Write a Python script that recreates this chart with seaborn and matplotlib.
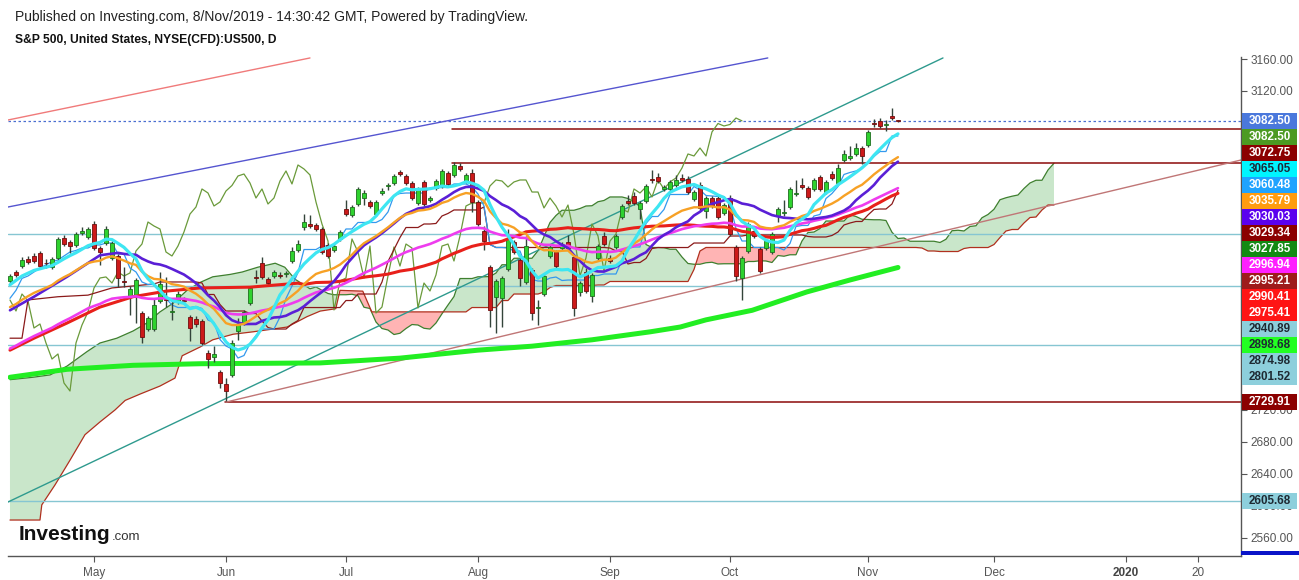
import numpy as np
import pandas as pd
import matplotlib
matplotlib.use("Agg")
import matplotlib.pyplot as plt
import matplotlib.transforms as mtransforms
from matplotlib.patches import Rectangle
import seaborn as sns

# ---------------- data ----------------
opens = [2881.7, 2893.0, 2900.5, 2909.3, 2913.1, 2916.8, 2904.3, 2899.3, 2910.6, 2935.6,
         2930.6, 2926.9, 2941.9, 2936.9, 2953.2, 2923.1, 2929.4, 2910.6, 2913.1, 2881.7,
         2861.7, 2864.2, 2841.6, 2821.5, 2821.5, 2856.7, 2859.2, 2842.9, 2855.4, 2857.9,
         2836.6, 2834.1, 2831.6, 2791.4, 2786.4, 2767.6, 2752.6, 2763.9, 2819.0, 2829.1,
         2854.1, 2886.8, 2904.3, 2884.2, 2888.0, 2889.3, 2890.5, 2906.8, 2920.6, 2949.4,
         2953.2, 2951.9, 2946.9, 2926.9, 2920.6, 2934.4, 2972.0, 2964.5, 2978.3, 2985.8,
         2980.8, 2965.7, 2992.1, 3000.9, 3004.6, 3018.4, 3013.4, 3004.6, 2979.5, 3005.9,
         2983.3, 2998.4, 3000.9, 3017.2, 3014.7, 3025.9, 3007.1, 3017.2, 2980.8, 2944.4,
         2899.3, 2861.7, 2860.4, 2896.8, 2930.6, 2908.1, 2880.5, 2895.5, 2847.9, 2865.4,
         2913.1, 2918.1, 2923.1, 2930.6, 2911.8, 2867.9, 2893.0, 2862.9, 2910.6, 2938.2,
         2910.6, 2924.4, 2962.0, 2982.0, 2988.3, 2972.0, 2982.0, 3009.6, 3012.2, 2997.1,
         2997.1, 3002.1, 3010.9, 3009.6, 2984.6, 3002.1, 2969.5, 2985.8, 2985.8, 2967.0,
         2985.8, 2924.4, 2885.5, 2919.4, 2944.4, 2921.9, 2923.1, 2918.1, 2963.2, 2967.0,
         2974.5, 2990.8, 3002.1, 2998.4, 2997.1, 3012.2, 2993.3, 3015.9, 3004.6, 3033.5,
         3036.0, 3041.0, 3048.5, 3052.3, 3079.9, 3082.4, 3077.4, 3088.6, 3083.6]
highs = [2890.5, 2895.5, 2911.8, 2913.1, 2916.8, 2919.4, 2909.3, 2911.8, 2936.9, 2939.4,
         2933.1, 2943.2, 2949.4, 2949.4, 2957.0, 2925.6, 2950.7, 2931.9, 2915.6, 2899.3,
         2875.5, 2885.5, 2844.1, 2837.8, 2860.4, 2893.0, 2886.8, 2857.9, 2869.2, 2861.7,
         2839.1, 2837.8, 2834.1, 2795.2, 2800.2, 2770.1, 2760.1, 2807.7, 2835.3, 2845.4,
         2875.5, 2895.5, 2911.8, 2886.8, 2895.5, 2893.0, 2894.3, 2924.4, 2933.1, 2965.7,
         2964.5, 2954.5, 2949.4, 2929.4, 2928.1, 2945.7, 2983.3, 2977.0, 2999.6, 2995.8,
         2983.3, 2983.3, 2998.4, 3004.6, 3015.9, 3020.9, 3015.9, 3007.1, 2999.6, 3008.4,
         2988.3, 3009.6, 3022.2, 3019.7, 3031.0, 3029.7, 3017.2, 3022.2, 2983.3, 2950.7,
         2901.8, 2884.2, 2888.0, 2946.9, 2933.1, 2910.6, 2938.2, 2898.0, 2857.9, 2890.5,
         2926.9, 2920.6, 2930.6, 2939.4, 2914.3, 2881.7, 2898.0, 2891.8, 2928.1, 2943.2,
         2914.3, 2940.7, 2978.3, 2989.6, 2993.3, 2982.0, 3003.4, 3020.9, 3017.2, 3002.1,
         3008.4, 3014.7, 3015.9, 3013.4, 2995.8, 3005.9, 2988.3, 2988.3, 2988.3, 2979.5,
         2989.6, 2926.9, 2913.1, 2955.7, 2949.4, 2924.4, 2934.4, 2943.2, 2974.5, 2983.3,
         2999.6, 3008.4, 3010.9, 3000.9, 3010.9, 3014.7, 3008.4, 3019.7, 3028.4, 3046.0,
         3051.0, 3054.8, 3051.0, 3071.1, 3084.9, 3086.1, 3083.6, 3098.7, 3084.0]
lows = [2879.2, 2886.8, 2898.0, 2903.0, 2904.3, 2898.0, 2898.0, 2896.8, 2908.1, 2925.6,
        2916.8, 2924.4, 2939.4, 2934.4, 2920.6, 2901.8, 2926.9, 2908.1, 2874.2, 2874.2,
        2839.1, 2829.1, 2804.0, 2819.0, 2819.0, 2854.1, 2849.1, 2832.8, 2852.9, 2852.9,
        2806.5, 2824.0, 2801.5, 2772.6, 2780.2, 2747.5, 2731.2, 2761.3, 2807.7, 2826.5,
        2851.6, 2879.2, 2884.2, 2876.7, 2885.5, 2885.5, 2886.8, 2904.3, 2918.1, 2945.7,
        2948.2, 2944.4, 2915.6, 2910.6, 2918.1, 2931.9, 2963.2, 2962.0, 2975.8, 2977.0,
        2973.3, 2963.2, 2989.6, 2995.8, 3002.1, 3013.4, 3002.1, 2983.3, 2977.0, 2975.8,
        2980.8, 2995.8, 2998.4, 3000.9, 3012.2, 3019.7, 3004.6, 2968.2, 2950.7, 2920.6,
        2824.0, 2816.5, 2824.0, 2894.3, 2915.6, 2875.5, 2878.0, 2832.8, 2826.5, 2862.9,
        2910.6, 2895.5, 2920.6, 2920.6, 2837.8, 2862.9, 2866.7, 2855.4, 2908.1, 2925.6,
        2904.3, 2921.9, 2959.5, 2977.0, 2977.0, 2959.5, 2979.5, 3004.6, 3004.6, 2994.6,
        2994.6, 2999.6, 3005.9, 2990.8, 2982.0, 2970.8, 2960.7, 2973.3, 2959.5, 2964.5,
        2938.2, 2881.7, 2857.9, 2916.8, 2935.6, 2891.8, 2920.6, 2915.6, 2955.7, 2963.2,
        2972.0, 2988.3, 2997.1, 2984.6, 2994.6, 2994.6, 2990.8, 3008.4, 3002.1, 3031.0,
        3033.5, 3038.5, 3028.4, 3049.8, 3074.8, 3073.6, 3069.8, 3083.6, 3081.5]
closes = [2888.0, 2889.3, 2908.1, 2905.6, 2906.8, 2900.5, 2903.7, 2909.3, 2934.4, 2928.1,
          2925.6, 2940.7, 2944.4, 2946.9, 2923.1, 2918.1, 2946.9, 2929.4, 2885.5, 2880.5,
          2871.7, 2883.0, 2811.5, 2835.3, 2851.6, 2878.0, 2857.9, 2844.1, 2865.4, 2856.7,
          2822.8, 2827.8, 2804.0, 2783.9, 2790.2, 2753.8, 2743.8, 2804.0, 2826.5, 2842.9,
          2872.9, 2885.5, 2886.8, 2879.2, 2893.0, 2888.0, 2891.8, 2919.4, 2928.1, 2955.7,
          2950.7, 2946.9, 2918.1, 2913.1, 2925.6, 2943.2, 2965.7, 2974.5, 2997.1, 2992.1,
          2975.8, 2980.8, 2994.6, 3001.5, 3013.4, 3015.9, 3004.6, 2985.8, 2997.1, 2978.3,
          2985.8, 3007.1, 3019.7, 3003.4, 3027.2, 3022.2, 3014.7, 2980.8, 2953.2, 2931.9,
          2845.4, 2881.7, 2885.5, 2934.4, 2918.1, 2885.5, 2925.6, 2841.6, 2849.1, 2888.0,
          2924.4, 2900.5, 2928.1, 2923.1, 2847.9, 2879.2, 2869.2, 2889.3, 2925.6, 2928.1,
          2906.8, 2938.2, 2975.8, 2979.5, 2979.5, 2979.5, 3000.9, 3008.4, 3007.1, 2999.6,
          3005.9, 3008.4, 3008.4, 2993.3, 2993.3, 2973.3, 2985.8, 2975.8, 2962.0, 2977.0,
          2940.7, 2888.0, 2910.6, 2953.2, 2938.2, 2894.3, 2931.9, 2940.7, 2972.0, 2968.2,
          2997.1, 2992.1, 2999.6, 2987.1, 3008.4, 2997.1, 3005.9, 3010.9, 3023.4, 3041.0,
          3038.5, 3048.5, 3038.5, 3068.6, 3079.2, 3076.1, 3078.0, 3086.1, 3082.5]

tick_bars = [14, 36, 56, 78, 100, 120, 143, 164, 186, 198]
tick_labels = ["May", "Jun", "Jul", "Aug", "Sep", "Oct", "Nov", "Dec", "2020", "20"]

# indicator values read at the left edge (their history lies before the first bar)
cyan_head_bars = [0, 2, 4, 7]
cyan_head = [2877, 2888, 2895, 2901]
tenkan_head_bars = [0, 1, 2, 3, 5, 7]
tenkan_head = [2860, 2870, 2885, 2888, 2898, 2906]
kijun_head_bars = [0, 2, 3, 8, 13, 17, 24]
kijun_head = [2810, 2810, 2858, 2862, 2864, 2873, 2878]
purple_head_bars = [0, 4, 9.5, 15, 18]
purple_head = [2845, 2862, 2887, 2914, 2917]
red_head_bars = [0, 4, 9.5, 15, 20.5, 26, 31.7, 40, 48]
red_head = [2795, 2810, 2829, 2849, 2862, 2869, 2873, 2874, 2879]
orange_seed = 2849.0
magenta_seed = 2797.0
lime_bars = [0, 9.5, 20.5, 31.7, 51.7, 65, 78, 87, 97, 106.7, 111.7, 116, 123.7, 132.8, 140, 148]
lime_vals = [2761, 2771, 2776, 2778, 2779, 2785, 2795, 2800, 2808, 2818, 2824, 2833, 2845, 2868, 2883, 2898.68]
spanA_head_bars = [0, 3.8, 6.7, 9.5, 12.8, 15, 17.8, 20.5, 22.8, 25, 27.2, 29.5, 31.7, 33.8,
                   36.7, 38.7, 41.3, 44.2, 45.8, 47.5, 50]
spanA_head = [2758, 2761, 2764, 2775, 2793, 2804, 2810, 2819, 2829, 2843, 2854, 2870, 2880, 2887,
              2890, 2893, 2899, 2904, 2899, 2884, 2872]
spanB_head_bars = [0, 5, 5.3, 7.5, 10, 12.5, 15, 17.5, 19.2, 21.7, 25, 27.5, 28.7, 31.7, 33.8,
                   37.2, 40.5, 46.2, 49.5, 51.7, 54.3, 55, 58.8, 60.3, 76]
spanB_head = [2582, 2582, 2601, 2626, 2657, 2689, 2705, 2720, 2732, 2740, 2750, 2760, 2788, 2799,
              2808, 2815, 2818, 2824, 2837, 2844, 2847, 2870, 2869, 2843, 2843]

teal_levels = [2940.89, 2874.98, 2801.52, 2605.68]
darkred_levels = [3072.75, 3029.34]
darkred_start = 74
low_level = 2729.91
low_start = 36
last_price = 3082.50

trend_bars = {"red": [-0.33, 50.0], "blue": [-0.33, 126.3], "teal": [-0.33, 155.5], "brown": [36.0, 205.2]}
trend_vals = {"red": [3083.6, 3161.4], "blue": [2974.5, 3161.4], "teal": [2604.6, 3161.4], "brown": [2729.9, 3033.5]}

label_values = [3082.50, 3082.50, 3072.75, 3065.05, 3060.48, 3035.79, 3030.03, 3029.34, 3027.85,
                2996.94, 2995.21, 2990.41, 2975.41, 2940.89, 2898.68, 2874.98, 2801.52, 2729.91, 2605.68]
label_bg = ['#4a78dc', '#4c9a22', '#8b0000', '#00f5ff', '#1fa3ff', '#ff9c0f', '#5a00ee', '#8b0000',
            '#138a13', '#ff1fff', '#9e1b1b', '#ff1414', '#ff1414', '#8dcfdc', '#22ff22', '#8dcfdc',
            '#8dcfdc', '#8b0000', '#8dcfdc']
label_fg = ['white', 'white', 'white', '#1a2a3a', 'white', 'white', 'white', 'white', 'white',
            'white', 'white', 'white', 'white', '#1e2a33', '#1e2a33', '#1e2a33', '#1e2a33', 'white', '#1e2a33']

# ---------------- style ----------------
sns.set_theme(style="white")
plt.rcParams['font.family'] = ['Liberation Sans', 'DejaVu Sans']

W, Hh = 1299, 580
fig = plt.figure(figsize=(W / 100, Hh / 100), dpi=100)
fig.patch.set_facecolor('white')
ax_l, ax_r, ax_t, ax_b = 8, 1241, 57, 556
ax = fig.add_axes([ax_l / W, (Hh - ax_b) / Hh, (ax_r - ax_l) / W, (ax_b - ax_t) / Hh])
ax.set_facecolor('white')
XMIN, XMAX = -0.33, 205.17
YMIN, YMAX = 2536.9, 3162.6
ax.set_xlim(XMIN, XMAX)
ax.set_ylim(YMIN, YMAX)

Hs = pd.Series(highs); Ls = pd.Series(lows); Cs = pd.Series(closes)
n = len(Cs)
idx = np.arange(n)


def ema_from(seed, values, period):
    a = 2.0 / (period + 1)
    out = [seed]
    for v in values[1:]:
        out.append(out[-1] + a * (v - out[-1]))
    return np.array(out)


sma9 = Cs.rolling(9).mean()
sma20 = Cs.rolling(20).mean()
sma50 = Cs.rolling(50).mean()
tenkan = (Hs.rolling(9).max() + Ls.rolling(9).min()) / 2
kijun = (Hs.rolling(26).max() + Ls.rolling(26).min()) / 2
span_a = (tenkan + kijun) / 2
span_b = (Hs.rolling(52).max() + Ls.rolling(52).min()) / 2
ema20 = ema_from(orange_seed, closes, 20)
ema50 = ema_from(magenta_seed, closes, 50)

# cloud
ax_x = np.array(list(spanA_head_bars) + list(idx[25:] + 26), dtype=float)
ax_y = np.array(list(spanA_head) + list(span_a[25:]), dtype=float)
bx_x = np.array(list(spanB_head_bars) + list(idx[51:] + 26), dtype=float)
bx_y = np.array(list(spanB_head) + list(span_b[51:]), dtype=float)
grid = np.union1d(ax_x, bx_x)
ga = np.interp(grid, ax_x, ax_y)
gb = np.interp(grid, bx_x, bx_y)
ax.fill_between(grid, ga, gb, where=ga >= gb, interpolate=True, color='#4caf50', alpha=0.30, lw=0, zorder=1)
ax.fill_between(grid, ga, gb, where=ga < gb, interpolate=True, color='#ff4d4d', alpha=0.42, lw=0, zorder=1)


def line(xs, ys, color, lw, z, alpha=1.0):
    d = pd.DataFrame({"x": np.asarray(xs, dtype=float), "y": np.asarray(ys, dtype=float)}).dropna()
    sns.lineplot(data=d, x="x", y="y", ax=ax, color=color, linewidth=lw, estimator=None,
                 sort=False, legend=False, zorder=z, alpha=alpha)


line(ax_x, ax_y, '#3f7f2f', 0.9, 2)
line(bx_x, bx_y, '#b0301e', 0.9, 2)

# horizontal levels
for v in teal_levels:
    ax.plot([XMIN, XMAX], [v, v], color='#86c6d2', lw=1.0, zorder=2)
for v in darkred_levels:
    ax.plot([darkred_start - 0.4, XMAX], [v, v], color='#8b0a0a', lw=1.1, zorder=2)
ax.plot([low_start - 0.2, XMAX], [low_level, low_level], color='#8b0a0a', lw=1.1, zorder=2)
ax.plot([XMIN, XMAX], [last_price, last_price], color='#4a6fd0', lw=0.9, ls=(0, (2, 2)), zorder=2)

# trend lines
tcol = {"red": '#f07a7a', "blue": '#5555d0', "teal": '#2e9a8e', "brown": '#c07676'}
for k in trend_bars:
    ax.plot(trend_bars[k], trend_vals[k], color=tcol[k], lw=1.0, zorder=2)

# lagging span
line(idx[:n - 26], closes[26:], '#6a9a3a', 0.9, 3)
# 200 MA
line(lime_bars, lime_vals, '#22ee22', 3.6, 3)
# kijun / tenkan
line(list(kijun_head_bars) + list(idx[25:]), list(kijun_head) + list(kijun[25:]), '#8b1a1a', 0.9, 4)
line(list(tenkan_head_bars) + list(idx[8:]), list(tenkan_head) + list(tenkan[8:]), '#3399ee', 0.9, 4)

# candles
up = np.array(closes) >= np.array(opens)
o = np.array(opens); c = np.array(closes)
ax.vlines(idx, lows, highs, color='#33443a', lw=1.0, zorder=5)
body_lo = np.minimum(o, c)
body_h = np.maximum(np.abs(c - o), 0.9)
ax.bar(idx[up], body_h[up], bottom=body_lo[up], width=0.66, color='#2fd22f', edgecolor='#1f6e1f',
       linewidth=0.6, zorder=6)
ax.bar(idx[~up], body_h[~up], bottom=body_lo[~up], width=0.66, color='#cc1a1a', edgecolor='#6e0e0e',
       linewidth=0.6, zorder=6)

# moving averages
line(list(red_head_bars) + list(idx[49:]), list(red_head) + list(sma50[49:]), '#e8201a', 2.2, 7)
line(idx, ema50, '#ee3cee', 1.9, 7)
line(list(purple_head_bars) + list(idx[19:]), list(purple_head) + list(sma20[19:]), '#5a1fd6', 1.9, 7)
line(idx, ema20, '#f7a125', 1.7, 7)
line(list(cyan_head_bars) + list(idx[8:]), list(cyan_head) + list(sma9[8:]), '#3ee6f2', 2.3, 7)

# axes
for s in ['top', 'left']:
    ax.spines[s].set_visible(False)
for s in ['right', 'bottom']:
    ax.spines[s].set_color('#555555')
    ax.spines[s].set_linewidth(1.0)
ax.yaxis.tick_right()

# right side price labels (stacked so they do not overlap)
ppu = (ax_b - ax_t) / (YMAX - YMIN)
box_px = 16.0
pos = []
for v in label_values:
    nat = (v - YMIN) * ppu
    if pos:
        nat = min(nat, pos[-1] - box_px)
    pos.append(nat)
box_centres = [YMIN + p / ppu for p in pos]
box_half = (box_px - 0.5) / ppu / 2

yt = np.arange(2560, 3161, 40)
ax.set_yticks(yt)
# a tick value whose label would sit fully behind a price box is left blank
ylabels = []
for v in yt:
    hidden = any(abs(v - bc) < box_half * 0.55 or
                 (bc - box_half <= v <= bc + box_half and abs(v - bc) < box_half) for bc in box_centres)
    covered = any(bc - box_half - 3 / ppu <= v <= bc + box_half + 3 / ppu for bc in box_centres)
    ylabels.append("" if covered and not (v in (2720, 2600)) else f"{v:.2f}")
ax.set_yticklabels(ylabels)
ax.tick_params(axis='y', which='both', direction='out', length=4, width=0.8, color='#555555',
               labelsize=8.5, labelcolor='#555555', pad=3, right=True, left=False)
ax.set_xticks(tick_bars)
ax.set_xticklabels(tick_labels)
ax.tick_params(axis='x', direction='out', length=4, width=0.8, color='#555555', labelsize=8.5,
               labelcolor='#555555', pad=4, bottom=True)
for t in ax.get_xticklabels():
    if t.get_text() == "2020":
        t.set_fontweight('bold')
        t.set_color('#444444')
ax.set_xlabel('')
ax.set_ylabel('')
ax.grid(False)

trans = mtransforms.blended_transform_factory(ax.transAxes, ax.transData)
bx0 = 1.0008
bw = 55.0 / (ax_r - ax_l)
for yc, v, bg, fg in zip(box_centres, label_values, label_bg, label_fg):
    ax.add_patch(Rectangle((bx0, yc - box_half), bw, 2 * box_half, transform=trans, facecolor=bg,
                           edgecolor='none', clip_on=False, zorder=20))
    ax.text(bx0 + bw / 2, yc, f"{v:.2f}", transform=trans, ha='center', va='center',
            fontsize=8.4, fontweight='bold', color=fg, clip_on=False, zorder=21)

# blue bar at bottom right
fig.patches.append(Rectangle((ax_r / W, (Hh - 555) / Hh), (W - ax_r) / W, 4 / Hh,
                             transform=fig.transFigure, facecolor='#0a14c8', edgecolor='none'))

# header texts
fig.text(15 / W, 1 - 17 / Hh, "Published on Investing.com, 8/Nov/2019 - 14:30:42 GMT, Powered by TradingView.",
         fontsize=10.0, color='#222222', ha='left', va='center')
fig.text(15 / W, 1 - 40 / Hh, "S&P 500, United States, NYSE(CFD):US500, D",
         fontsize=8.7, fontweight='bold', color='#111111', ha='left', va='center')
# logo
fig.text(19 / W, 1 - 534 / Hh, "Investing", fontsize=15, fontweight='bold', color='#111111',
         ha='left', va='center')
fig.text(112 / W, 1 - 537 / Hh, ".com", fontsize=9.5, color='#333333', ha='left', va='center')

fig.savefig("out.png", dpi=100, facecolor='white')
